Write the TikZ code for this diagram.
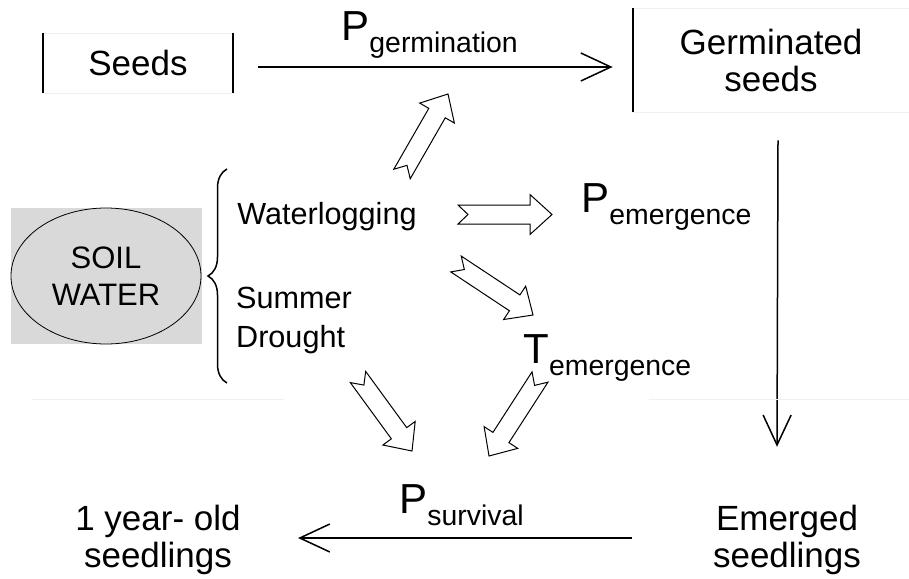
\documentclass[tikz,border=0pt]{standalone}
\usepackage{fontspec}
\setmainfont{Liberation Sans}
\usetikzlibrary{arrows.meta,calc,shapes.geometric,decorations.pathreplacing}
\definecolor{soilgray}{HTML}{D9D9D9}
\newcommand{\rate}[2]{{\fontsize{21}{22}\selectfont #1}\raisebox{-6.2pt}{\fontsize{14.2}{15}\selectfont #2}}
\newcommand{\hollowarr}[2]{\draw[block] ($(#1)!5pt!(#2)$) -- ($(#1)!4.75pt!90:(#2)$)
  -- ($(#2)!11pt!(#1)!4.75pt!90:(#2)$) -- ($(#2)!11pt!(#1)!10pt!90:(#2)$) -- (#2)
  -- ($(#2)!11pt!(#1)!10pt!-90:(#2)$) -- ($(#2)!11pt!(#1)!4.75pt!-90:(#2)$)
  -- ($(#1)!4.75pt!-90:(#2)$) -- cycle;}
\begin{document}
\begin{tikzpicture}[x=0.5pt,y=-0.5pt,
  txt/.style={inner sep=0pt,align=center,font=\fontsize{17.5}{18.5}\selectfont},
  side/.style={inner sep=0pt,align=left,font=\fontsize{15.3}{19.5}\selectfont},
  box/.style={draw=gray!12,inner sep=0pt,align=center,font=\fontsize{17.5}{18.5}\selectfont},
  edge/.style={line width=1pt},
  flow/.style={line width=0.75pt,-{Straight Barb[length=15pt,width=14pt]}},
  block/.style={line width=0.5pt,fill=white,line join=miter}]
\useasboundingbox (0,0) rectangle (909,578);

% boxes
\node[box,minimum width=94.5pt,minimum height=30pt] (sd) at (138,63) {Seeds};
\draw[edge] (sd.north west) -- (sd.south west);
\draw[edge] (sd.north east) -- (sd.south east);
\node[box,minimum width=138pt,minimum height=52pt] (gs) at (771,60) {Germinated\\seeds};
\draw[edge] (gs.north west) -- (gs.south west);

\node[txt] (em) at (787,540) {Emerged\\seedlings};
\node[txt] (yo) at (158,540) {1 year- old\\seedlings};

% main flow
\draw[flow] ([shift={(25,4)}]sd.east) -- ([shift={(-20,7)}]gs.west);
\draw[flow] ([shift={(7,28)}]gs.south) -- ([shift={(-10,-58)}]em.north);
\draw[flow] ([shift={(-81,-2)}]em.west) -- ([shift={(57,-2)}]yo.east);

\node[inner sep=0pt,anchor=base west] (pg) at (341,40) {\rate{P}{germination}};
\node[inner sep=0pt,anchor=base west] (pe) at (581,212) {\rate{P}{emergence}};
\node[inner sep=0pt,anchor=base west] (te) at (523,363) {\rate{T}{emergence}};
\node[inner sep=0pt,anchor=base west] (ps) at (399,513) {\rate{P}{survival}};

% soil water
\fill[soilgray] (11,208) rectangle (202,344);
\node[ellipse,draw,fill=soilgray,minimum width=95pt,minimum height=68pt,inner sep=0pt,
  align=center,font=\fontsize{15.5}{18.5}\selectfont] (sw) at (106,276) {SOIL\\WATER};
\draw[line width=0.75pt,decorate,decoration={brace,amplitude=9.5pt}] (227,383) -- (227,169);
\node[side,anchor=base west] (wl) at (237,224) {Waterlogging};
\node[side] (dr) at (294,320) {Summer\\Drought};

% faint rules
\draw[gray!12] (32,399) -- (284,399);
\draw[gray!12] (649,399) -- (909,399);

% effects
\coordinate (a1) at (402,174); \coordinate (b1) at (448,94);
\coordinate (a2) at (458,214.5); \coordinate (b2) at (552,214.5);
\coordinate (a3) at (456,264); \coordinate (b3) at (533,315);
\coordinate (a4) at (358,377); \coordinate (b4) at (412,451);
\coordinate (a5) at (540,377); \coordinate (b5) at (489,456);
\hollowarr{a1}{b1}
\hollowarr{a2}{b2}
\hollowarr{a3}{b3}
\hollowarr{a4}{b4}
\hollowarr{a5}{b5}
\end{tikzpicture}
\end{document}
